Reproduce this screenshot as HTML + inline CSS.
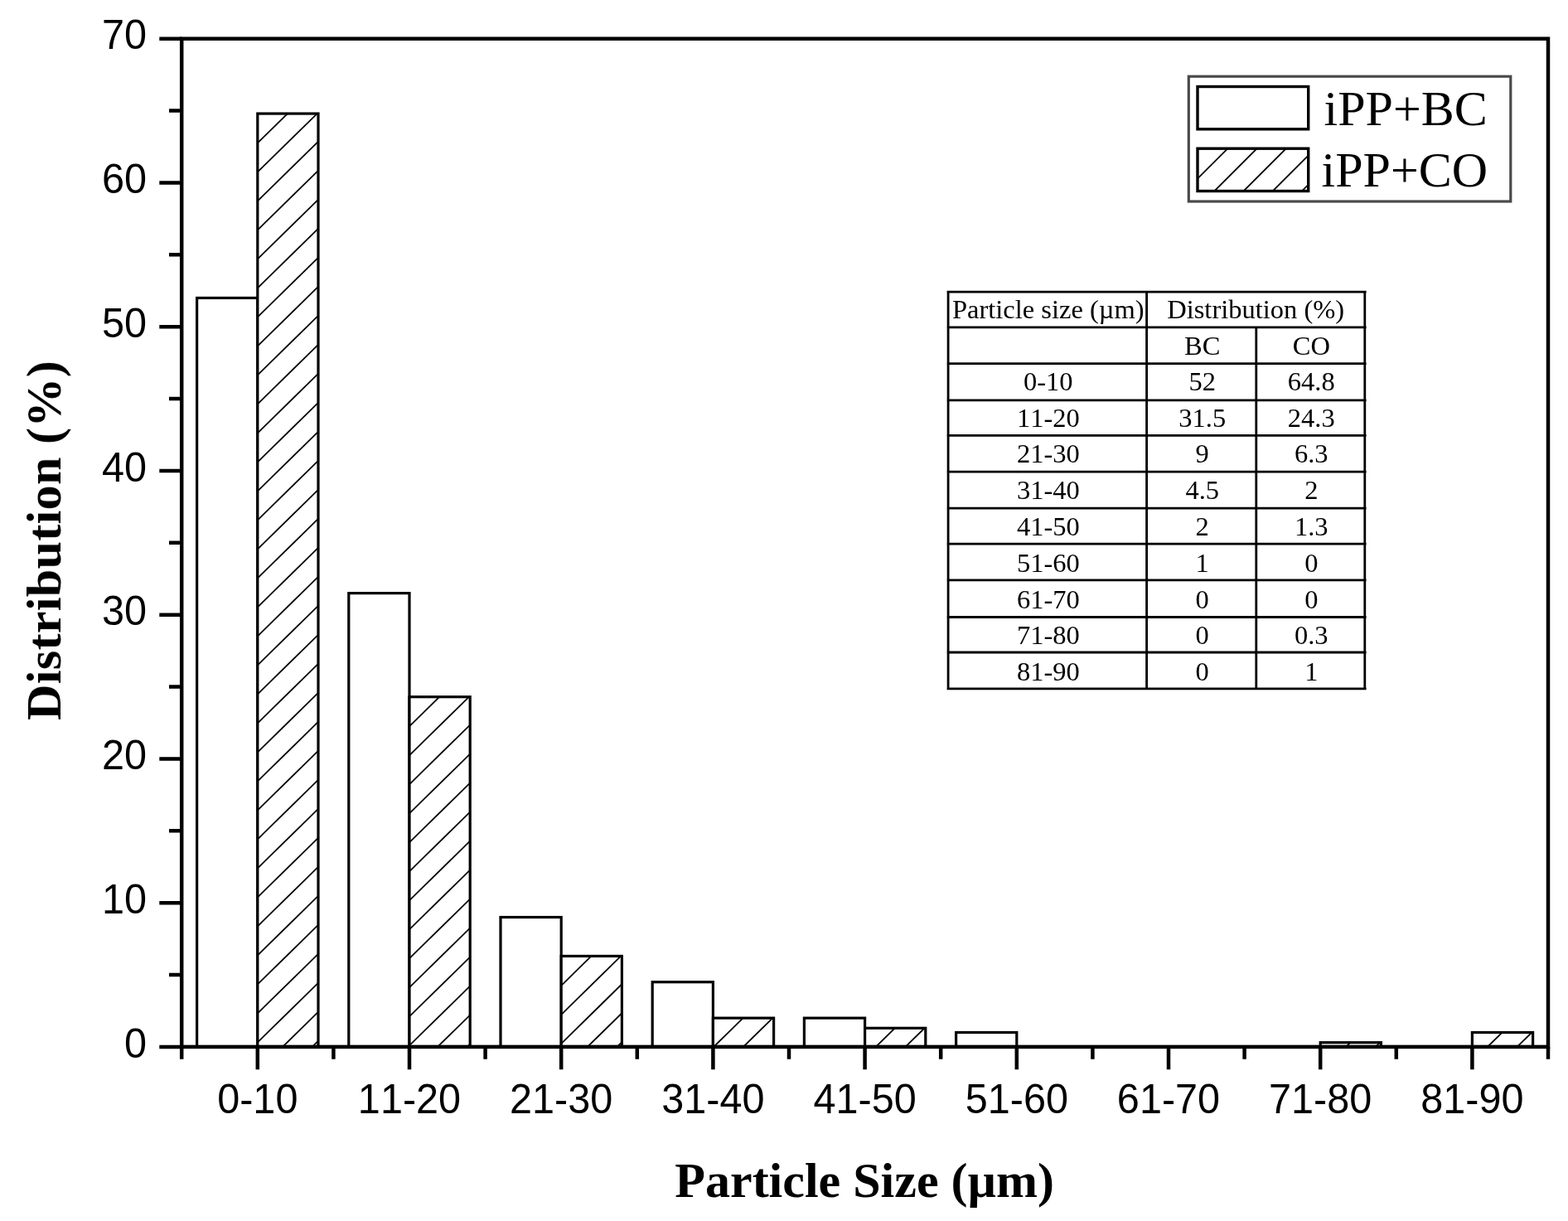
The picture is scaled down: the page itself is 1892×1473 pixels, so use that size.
<!DOCTYPE html>
<html lang="en"><head><meta charset="utf-8"><title>Particle size distribution</title>
<style>html,body{margin:0;padding:0;background:#fff}body{width:1892px;height:1473px;overflow:hidden}svg{display:block}text{fill:#000;font-variant-ligatures:none;font-kerning:none}</style>
</head><body>
<svg width="1892" height="1473" viewBox="0 0 1892 1473">
<rect width="1892" height="1473" fill="#fff"/>
<defs><filter id="soft" x="0" y="0" width="1892" height="1473" filterUnits="userSpaceOnUse"><feGaussianBlur stdDeviation="0.65"/></filter></defs>
<g id="chart" filter="url(#soft)">
<g id="bars">
<rect x="237.6" y="359.44" width="73.2" height="903.46" fill="#fff" stroke="#000" stroke-width="3.2"/>
<rect x="310.8" y="137.05" width="73.2" height="1125.85" fill="#fff" stroke="none"/>
<clipPath id="hc0"><rect x="310.8" y="137.05" width="73.2" height="1125.85"/></clipPath>
<path clip-path="url(#hc0)" d="M308.8 139.51L386 63.85M308.8 174.51L386 98.85M308.8 209.51L386 133.85M308.8 244.51L386 168.85M308.8 279.51L386 203.85M308.8 314.51L386 238.85M308.8 349.51L386 273.85M308.8 384.51L386 308.85M308.8 419.51L386 343.85M308.8 454.51L386 378.85M308.8 489.51L386 413.85M308.8 524.51L386 448.85M308.8 559.51L386 483.85M308.8 594.51L386 518.85M308.8 629.51L386 553.85M308.8 664.51L386 588.85M308.8 699.51L386 623.85M308.8 734.51L386 658.85M308.8 769.51L386 693.85M308.8 804.51L386 728.85M308.8 839.51L386 763.85M308.8 874.51L386 798.85M308.8 909.51L386 833.85M308.8 944.51L386 868.85M308.8 979.51L386 903.85M308.8 1014.51L386 938.85M308.8 1049.51L386 973.85M308.8 1084.51L386 1008.85M308.8 1119.51L386 1043.85M308.8 1154.51L386 1078.85M308.8 1189.51L386 1113.85M308.8 1224.51L386 1148.85M308.8 1259.51L386 1183.85M308.8 1294.51L386 1218.85M308.8 1329.51L386 1253.85" fill="none" stroke="#000" stroke-width="1.8"/>
<rect x="310.8" y="137.05" width="73.2" height="1125.85" fill="none" stroke="#000" stroke-width="3.2"/>
<rect x="420.8" y="715.61" width="73.2" height="547.29" fill="#fff" stroke="#000" stroke-width="3.2"/>
<rect x="494" y="840.7" width="73.2" height="422.2" fill="#fff" stroke="none"/>
<clipPath id="hc1"><rect x="494" y="840.7" width="73.2" height="422.2"/></clipPath>
<path clip-path="url(#hc1)" d="M492 843.16L569.2 767.51M492 878.16L569.2 802.51M492 913.16L569.2 837.51M492 948.16L569.2 872.51M492 983.16L569.2 907.51M492 1018.16L569.2 942.51M492 1053.16L569.2 977.51M492 1088.16L569.2 1012.51M492 1123.16L569.2 1047.51M492 1158.16L569.2 1082.51M492 1193.16L569.2 1117.51M492 1228.16L569.2 1152.51M492 1263.16L569.2 1187.51M492 1298.16L569.2 1222.51M492 1333.16L569.2 1257.51" fill="none" stroke="#000" stroke-width="1.8"/>
<rect x="494" y="840.7" width="73.2" height="422.2" fill="none" stroke="#000" stroke-width="3.2"/>
<rect x="604" y="1106.53" width="73.2" height="156.37" fill="#fff" stroke="#000" stroke-width="3.2"/>
<rect x="677.2" y="1153.44" width="73.2" height="109.46" fill="#fff" stroke="none"/>
<clipPath id="hc2"><rect x="677.2" y="1153.44" width="73.2" height="109.46"/></clipPath>
<path clip-path="url(#hc2)" d="M675.2 1155.9L752.4 1080.25M675.2 1190.9L752.4 1115.25M675.2 1225.9L752.4 1150.25M675.2 1260.9L752.4 1185.25M675.2 1295.9L752.4 1220.25M675.2 1330.9L752.4 1255.25" fill="none" stroke="#000" stroke-width="1.8"/>
<rect x="677.2" y="1153.44" width="73.2" height="109.46" fill="none" stroke="#000" stroke-width="3.2"/>
<rect x="787.2" y="1184.72" width="73.2" height="78.18" fill="#fff" stroke="#000" stroke-width="3.2"/>
<rect x="860.4" y="1228.15" width="73.2" height="34.75" fill="#fff" stroke="none"/>
<clipPath id="hc3"><rect x="860.4" y="1228.15" width="73.2" height="34.75"/></clipPath>
<path clip-path="url(#hc3)" d="M858.4 1230.61L935.6 1154.96M858.4 1265.61L935.6 1189.96M858.4 1300.61L935.6 1224.96M858.4 1335.61L935.6 1259.96" fill="none" stroke="#000" stroke-width="1.8"/>
<rect x="860.4" y="1228.15" width="73.2" height="34.75" fill="none" stroke="#000" stroke-width="3.2"/>
<rect x="970.4" y="1228.15" width="73.2" height="34.75" fill="#fff" stroke="#000" stroke-width="3.2"/>
<rect x="1043.6" y="1240.31" width="73.2" height="22.59" fill="#fff" stroke="none"/>
<clipPath id="hc4"><rect x="1043.6" y="1240.31" width="73.2" height="22.59"/></clipPath>
<path clip-path="url(#hc4)" d="M1041.6 1242.77L1118.8 1167.12M1041.6 1277.77L1118.8 1202.12M1041.6 1312.77L1118.8 1237.12" fill="none" stroke="#000" stroke-width="1.8"/>
<rect x="1043.6" y="1240.31" width="73.2" height="22.59" fill="none" stroke="#000" stroke-width="3.2"/>
<rect x="1153.6" y="1245.53" width="73.2" height="17.37" fill="#fff" stroke="#000" stroke-width="3.2"/>
<rect x="1593.2" y="1257.69" width="73.2" height="5.21" fill="#fff" stroke="none"/>
<clipPath id="hc7"><rect x="1593.2" y="1257.69" width="73.2" height="5.21"/></clipPath>
<path clip-path="url(#hc7)" d="M1591.2 1260.15L1668.4 1184.49M1591.2 1295.15L1668.4 1219.49M1591.2 1330.15L1668.4 1254.49" fill="none" stroke="#000" stroke-width="1.8"/>
<rect x="1593.2" y="1257.69" width="73.2" height="5.21" fill="none" stroke="#000" stroke-width="3.2"/>
<rect x="1776.4" y="1245.53" width="73.2" height="17.37" fill="#fff" stroke="none"/>
<clipPath id="hc8"><rect x="1776.4" y="1245.53" width="73.2" height="17.37"/></clipPath>
<path clip-path="url(#hc8)" d="M1774.4 1247.99L1851.6 1172.33M1774.4 1282.99L1851.6 1207.33M1774.4 1317.99L1851.6 1242.33" fill="none" stroke="#000" stroke-width="1.8"/>
<rect x="1776.4" y="1245.53" width="73.2" height="17.37" fill="none" stroke="#000" stroke-width="3.2"/>
</g>
<g id="axes" stroke="#000" fill="none">
<path d="M192.3 1262.9H219.2M204 1176.03H219.2M192.3 1089.16H219.2M204 1002.29H219.2M192.3 915.41H219.2M204 828.54H219.2M192.3 741.67H219.2M204 654.8H219.2M192.3 567.93H219.2M204 481.06H219.2M192.3 394.19H219.2M204 307.31H219.2M192.3 220.44H219.2M204 133.57H219.2M192.3 46.7H219.2M310.8 1262.9V1290.2M494 1262.9V1290.2M677.2 1262.9V1290.2M860.4 1262.9V1290.2M1043.6 1262.9V1290.2M1226.8 1262.9V1290.2M1410 1262.9V1290.2M1593.2 1262.9V1290.2M1776.4 1262.9V1290.2M219.2 1262.9V1277.7M402.4 1262.9V1277.7M585.6 1262.9V1277.7M768.8 1262.9V1277.7M952 1262.9V1277.7M1135.2 1262.9V1277.7M1318.4 1262.9V1277.7M1501.6 1262.9V1277.7M1684.8 1262.9V1277.7M1868 1262.9V1277.7" stroke-width="4.5"/>
<rect x="219.2" y="46.7" width="1648.8" height="1216.2" stroke-width="4.5"/>
</g>
<g id="ylabels" font-family="'Liberation Sans', Arial, Helvetica, sans-serif" font-size="50" text-anchor="end">
<text x="177" y="1275.5" textLength="27.02" lengthAdjust="spacingAndGlyphs">0</text>
<text x="177" y="1101.76" textLength="54.04" lengthAdjust="spacingAndGlyphs">10</text>
<text x="177" y="928.01" textLength="54.04" lengthAdjust="spacingAndGlyphs">20</text>
<text x="177" y="754.27" textLength="54.04" lengthAdjust="spacingAndGlyphs">30</text>
<text x="177" y="580.53" textLength="54.04" lengthAdjust="spacingAndGlyphs">40</text>
<text x="177" y="406.79" textLength="54.04" lengthAdjust="spacingAndGlyphs">50</text>
<text x="177" y="233.04" textLength="54.04" lengthAdjust="spacingAndGlyphs">60</text>
<text x="177" y="59.3" textLength="54.04" lengthAdjust="spacingAndGlyphs">70</text>
</g>
<g id="xlabels" font-family="'Liberation Sans', Arial, Helvetica, sans-serif" font-size="50" text-anchor="middle">
<text x="310.8" y="1343" textLength="97.25" lengthAdjust="spacingAndGlyphs">0-10</text>
<text x="494" y="1343" textLength="124.27" lengthAdjust="spacingAndGlyphs">11-20</text>
<text x="677.2" y="1343" textLength="124.27" lengthAdjust="spacingAndGlyphs">21-30</text>
<text x="860.4" y="1343" textLength="124.27" lengthAdjust="spacingAndGlyphs">31-40</text>
<text x="1043.6" y="1343" textLength="124.27" lengthAdjust="spacingAndGlyphs">41-50</text>
<text x="1226.8" y="1343" textLength="124.27" lengthAdjust="spacingAndGlyphs">51-60</text>
<text x="1410" y="1343" textLength="124.27" lengthAdjust="spacingAndGlyphs">61-70</text>
<text x="1593.2" y="1343" textLength="124.27" lengthAdjust="spacingAndGlyphs">71-80</text>
<text x="1776.4" y="1343" textLength="124.27" lengthAdjust="spacingAndGlyphs">81-90</text>
</g>
<text id="xtitle" x="1043.2" y="1444.1" font-family="'Liberation Serif', 'Times New Roman', Times, serif" font-size="60" font-weight="bold" text-anchor="middle">Particle Size (µm)</text>
<text id="ytitle" transform="translate(73 651.9) rotate(-90)" font-family="'Liberation Serif', 'Times New Roman', Times, serif" font-size="60" font-weight="bold" text-anchor="middle" letter-spacing="0.35">Distribution (%)</text>
<g id="legend">
<rect x="1434.3" y="92.2" width="388.5" height="150.8" fill="#fff" stroke="#4a4a4a" stroke-width="3.2"/>
<rect x="1445" y="104.5" width="133.7" height="51.3" fill="#fff" stroke="#000" stroke-width="3.4"/>
<rect x="1445" y="179.2" width="133.7" height="51.3" fill="#fff" stroke="none"/>
<clipPath id="hleg"><rect x="1445" y="179.2" width="133.7" height="51.3"/></clipPath>
<path clip-path="url(#hleg)" d="M1443 182.4L1580.7 44.7M1443 217.6L1580.7 79.9M1443 252.8L1580.7 115.1M1443 288L1580.7 150.3M1443 323.2L1580.7 185.5M1443 358.4L1580.7 220.7" fill="none" stroke="#000" stroke-width="1.8"/>
<rect x="1445" y="179.2" width="133.7" height="51.3" fill="none" stroke="#000" stroke-width="3.4"/>
<text x="1597.5" y="151.4" font-family="'Liberation Serif', 'Times New Roman', Times, serif" font-size="60">iPP+BC</text>
<text x="1594.5" y="224.8" font-family="'Liberation Serif', 'Times New Roman', Times, serif" font-size="60">iPP+CO</text>
</g>
<g id="table">
<rect x="1144.1" y="352.2" width="502.7" height="478.7" fill="#fff" stroke="none"/>
<path d="M1142.6 352.2H1648.6M1142.6 394.9H1648.6M1142.6 438.6H1648.6M1142.6 482.8H1648.6M1142.6 525.3H1648.6M1142.6 569.2H1648.6M1142.6 613.1H1648.6M1142.6 656.1H1648.6M1142.6 699.8H1648.6M1142.6 744.5H1648.6M1142.6 787H1648.6M1142.6 830.9H1648.6M1144.1 352.2V830.9M1383.6 352.2V830.9M1515.8 394.9V830.9M1646.8 352.2V830.9" fill="none" stroke="#000" stroke-width="2.8"/>
<g font-family="'Liberation Serif', 'Times New Roman', Times, serif" font-size="32.5" text-anchor="middle">
<text x="1264.85" y="384">Particle size (µm)</text>
<text x="1515.2" y="384">Distribution (%)</text>
<text x="1450.7" y="428">BC</text>
<text x="1582.3" y="428">CO</text>
<text x="1264.85" y="470.9">0-10</text>
<text x="1450.7" y="470.9">52</text>
<text x="1582.3" y="470.9">64.8</text>
<text x="1264.85" y="514.68">11-20</text>
<text x="1450.7" y="514.68">31.5</text>
<text x="1582.3" y="514.68">24.3</text>
<text x="1264.85" y="558.46">21-30</text>
<text x="1450.7" y="558.46">9</text>
<text x="1582.3" y="558.46">6.3</text>
<text x="1264.85" y="602.24">31-40</text>
<text x="1450.7" y="602.24">4.5</text>
<text x="1582.3" y="602.24">2</text>
<text x="1264.85" y="646.02">41-50</text>
<text x="1450.7" y="646.02">2</text>
<text x="1582.3" y="646.02">1.3</text>
<text x="1264.85" y="689.8">51-60</text>
<text x="1450.7" y="689.8">1</text>
<text x="1582.3" y="689.8">0</text>
<text x="1264.85" y="733.58">61-70</text>
<text x="1450.7" y="733.58">0</text>
<text x="1582.3" y="733.58">0</text>
<text x="1264.85" y="777.36">71-80</text>
<text x="1450.7" y="777.36">0</text>
<text x="1582.3" y="777.36">0.3</text>
<text x="1264.85" y="821.14">81-90</text>
<text x="1450.7" y="821.14">0</text>
<text x="1582.3" y="821.14">1</text>
</g></g>
</g>
</svg>
</body></html>
